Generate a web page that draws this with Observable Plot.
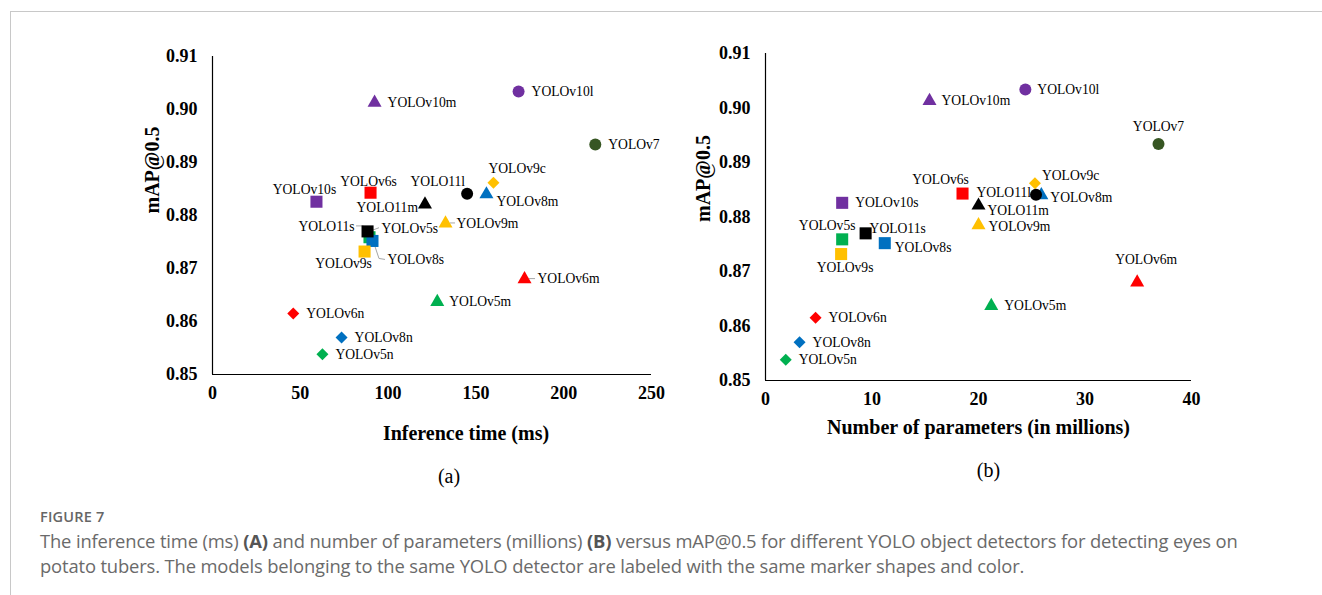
<!DOCTYPE html>
<html>
<head>
<meta charset="utf-8">
<script src="https://cdn.jsdelivr.net/npm/d3@7"></script>
<script src="https://cdn.jsdelivr.net/npm/@observablehq/plot@0.6"></script>
<style>
  html, body { margin: 0; padding: 0; background: #fff; }
  body { width: 1322px; height: 595px; position: relative; overflow: hidden; }
  #frame { position: absolute; left: 10px; top: 11px; width: 1311px; height: 600px;
           border-top: 1px solid #c8c8c8; border-left: 1px solid #c8c8c8; }
  #chartA { position: absolute; left: 130px; top: 40px; }
  #chartB { position: absolute; left: 690px; top: 40px; }
  #figlabel { position: absolute; left: 40px; top: 507px; font-family: "Open Sans", sans-serif;
              font-size: 14.5px; font-weight: 600; color: #666; letter-spacing: 0.2px; }
  #caption { position: absolute; left: 40px; top: 528px; width: 1275px; font-family: "Open Sans", sans-serif;
             font-size: 18.4px; line-height: 25px; color: #6a6a6a; font-weight: 400; letter-spacing: -0.15px; }
  #caption b { font-weight: 700; color: #555; }
</style>
</head>
<body>
<div id="frame"></div>
<div id="chartA"></div>
<div id="chartB"></div>
<div id="figlabel">FIGURE 7</div>
<div id="caption">The inference time (ms) <b>(A)</b> and number of parameters (millions) <b>(B)</b> versus mAP@0.5 for different YOLO object detectors for detecting eyes on<br>potato tubers. The models belonging to the same YOLO detector are labeled with the same marker shapes and color.</div>
<script>
// ---- data ----
const names = ["YOLOv5n","YOLOv5s","YOLOv5m","YOLOv6n","YOLOv6s","YOLOv6m","YOLOv7","YOLOv8n","YOLOv8s","YOLOv8m","YOLOv9s","YOLOv9m","YOLOv9c","YOLOv10s","YOLOv10m","YOLOv10l","YOLO11s","YOLO11m","YOLO11l"];
const inferenceMs = [62.6, 89.4, 128, 46, 90, 177.7, 218, 73.5, 91.1, 156, 86.6, 132.7, 160, 59.2, 92.3, 174.3, 88.3, 121, 145];
const paramsM = [1.9, 7.2, 21.2, 4.7, 18.5, 34.9, 36.9, 3.2, 11.2, 25.9, 7.1, 20.0, 25.3, 7.2, 15.4, 24.4, 9.4, 20.0, 25.4];
const mAP = [0.8538, 0.8759, 0.8637, 0.8615, 0.8843, 0.868, 0.8934, 0.857, 0.8752, 0.884, 0.8732, 0.8785, 0.8862, 0.8826, 0.9013, 0.9034, 0.877, 0.8821, 0.8841];
const xTicksA = [0, 50, 100, 150, 200, 250];
const xTicksB = [0, 10, 20, 30, 40];
const yTicks = [0.85, 0.86, 0.87, 0.88, 0.89, 0.90, 0.91];

// ---- styles ----
const colors = ["#00B050","#00B050","#00B050","#FF0000","#FF0000","#FF0000","#375623","#0070C0","#0070C0","#0070C0","#FFC000","#FFC000","#FFC000","#7030A0","#7030A0","#7030A0","#000000","#000000","#000000"];
const shapes = ["diamond","square","triangle","diamond","square","triangle","circle","diamond","square","triangle","square","triangle","diamond","square","triangle","circle","square","triangle","circle"];
// label placement [dx, dy, anchor]
const labelA = [[13,0,"start"],[12,-9,"start"],[12,0,"start"],[13,0,"start"],[-2,-11,"middle"],[13,0,"start"],[13,0,"start"],[13,0,"start"],[15,19,"start"],[10,7,"start"],[-21,12,"middle"],[11,0,"start"],[-5,-14,"start"],[-12,-12,"middle"],[13,0,"start"],[13,0,"start"],[-13,-5,"end"],[-7,3,"end"],[-2,-12,"end"]];
const labelB = [[13,0,"start"],[-15,-14,"middle"],[13,0,"start"],[13,0,"start"],[-22,-14,"middle"],[9,-23,"middle"],[0,-17,"middle"],[13,0,"start"],[10,4,"start"],[9,2,"start"],[4,14,"middle"],[10,1,"start"],[7,-8,"start"],[13,0,"start"],[12,0,"start"],[12,0,"start"],[4,-5,"start"],[9,5,"start"],[-5,-2,"end"]];
const leadersA = {"YOLO11s": [[0,-2],[-4,-5],[-11,-5]], "YOLOv5s": [[2,-6],[10,-9]], "YOLOv8s": [[2,3],[7,18],[13,19]], "YOLOv9m": [[5,0],[10,0]], "YOLOv6m": [[5,0],[11,0]]};
const shapeR = {circle: 6, square: 6.8, triangle: 5.2, diamond: 5.4};
const symbolName = {circle: "circle", square: "square", triangle: "triangle", diamond: "diamond2"};

const serif = "'Liberation Serif', 'Times New Roman', serif";
const rows = names.map((n, i) => ({i, name: n, t: inferenceMs[i], p: paramsM[i], m: mAP[i], color: colors[i], shape: shapes[i]}));

function makeChart({xKey, xDomain, xTicks, width, height, mL, mR, mT, mB, xTitle, xTitleDx, xTitleDy, yTitleDx, yTitleDy, sub, subDx, subDy, labels, leaders}) {
  const marks = [];
  marks.push(Plot.axisX({ticks: xTicks, tickSize: 0, tickPadding: 12, fontSize: 18, fontWeight: "bold", fill: "#000", label: null}));
  marks.push(Plot.axisY({ticks: yTicks, tickSize: 0, tickPadding: 15, fontSize: 18, fontWeight: "bold", fill: "#000", tickFormat: d3.format(".2f"), label: null}));
  marks.push(Plot.ruleX([xDomain[0]], {stroke: "#000", strokeWidth: 1.2}));
  marks.push(Plot.ruleY([yTicks[0]], {stroke: "#000", strokeWidth: 1.2}));
  if (leaders) {
    marks.push((index, scales) => {
      const g = d3.create("svg:g").attr("stroke", "#a6a6a6").attr("fill", "none").attr("stroke-width", 1);
      rows.forEach(r => {
        const pts = leaders[r.name];
        if (!pts) return;
        const cx = scales.x(r[xKey]), cy = scales.y(r.m);
        g.append("polyline").attr("points", pts.map(([a, b]) => `${cx + a},${cy + b}`).join(" "));
      });
      return g.node();
    });
  }
  for (const s of ["diamond", "square", "triangle", "circle"]) {
    marks.push(Plot.dot(rows.filter(r => r.shape === s), {x: xKey, y: "m", fill: "color", symbol: () => symbolName[s], r: shapeR[s], stroke: "none"}));
  }
  rows.forEach(r => {
    const [dx, dy, anchor] = labels[r.i];
    marks.push(Plot.text([r], {x: xKey, y: "m", text: "name", dx, dy, textAnchor: anchor, fontSize: 13.6, fill: "#000", fontFamily: serif}));
  });
  marks.push(Plot.text([xTitle], {frameAnchor: "bottom", dx: xTitleDx, dy: xTitleDy, fontSize: 20, fontWeight: "bold", fill: "#000", fontFamily: serif}));
  marks.push(Plot.text(["mAP@0.5"], {frameAnchor: "left", dx: yTitleDx, dy: yTitleDy, rotate: -90, fontSize: 20, fontWeight: "bold", fill: "#000", fontFamily: serif}));
  marks.push(Plot.text([sub], {frameAnchor: "bottom", dx: subDx, dy: subDy, fontSize: 20, fill: "#000", fontFamily: serif}));
  return Plot.plot({
    width, height, marginLeft: mL, marginRight: mR, marginTop: mT, marginBottom: mB,
    x: {domain: xDomain}, y: {domain: [0.85, 0.91]},
    style: {fontFamily: serif, background: "transparent", overflow: "visible", color: "#000"},
    marks
  });
}

document.getElementById("chartA").append(makeChart({
  xKey: "t", xDomain: [0, 250], xTicks: xTicksA, width: 540, height: 460, mL: 82, mR: 19, mT: 16, mB: 126,
  xTitle: "Inference time (ms)", xTitleDx: 34, xTitleDy: 65, yTitleDx: -60, yTitleDy: -2,
  sub: "(a)", subDx: 17, subDy: 108, labels: labelA, leaders: leadersA
}));
document.getElementById("chartB").append(makeChart({
  xKey: "p", xDomain: [0, 40], xTicks: xTicksB, width: 530, height: 450, mL: 75, mR: 29, mT: 13, mB: 110,
  xTitle: "Number of parameters (in millions)", xTitleDx: 0, xTitleDy: 53, yTitleDx: -62, yTitleDy: 5,
  sub: "(b)", subDx: 10, subDy: 96, labels: labelB, leaders: null
}));
</script>
</body>
</html>
